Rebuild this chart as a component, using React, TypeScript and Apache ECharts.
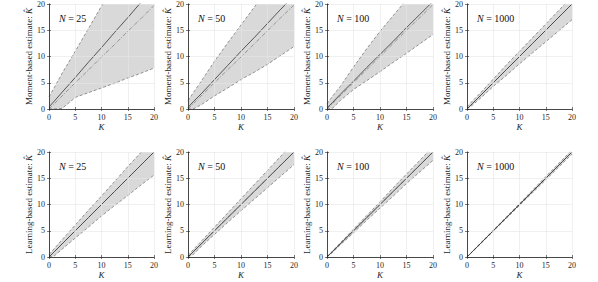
import React, { useEffect, useRef } from "react";
import * as echarts from "echarts";

// True number of components K (shared x grid for all panels)
const K = [0, 1, 2.5, 5, 7.5, 10, 12.5, 15, 17.5, 20];
const AXIS_TICKS = [0, 5, 10, 15, 20];
const N_VALUES = ["25", "50", "100", "1000"];
const ROW_LABELS = ["Moment-based estimate: ", "Learning-based estimate: "];

// Moment-based estimates (top row)
const m25Lower = [0, 0, 0.1, 2.2, 3.1, 4.0, 4.9, 5.9, 6.8, 7.8];
const m25Upper = [2.3, 4.1, 6.8, 11.0, 15.3, 19.6, 23.8, 28.0, 32.2, 36.4];
const m25Mean = [0.4, 1.5, 3.2, 6.0, 8.9, 11.7, 14.6, 17.4, 20.3, 23.1];
const m25Median = [0, 1.0, 2.5, 5.0, 7.4, 9.9, 12.3, 14.8, 17.2, 19.7];

const m50Lower = [0, 0, 0.8, 2.5, 4.0, 5.6, 7.0, 8.5, 10.2, 11.9];
const m50Upper = [1.6, 3.1, 5.3, 9.1, 12.6, 16.0, 19.4, 22.8, 26.2, 29.6];
const m50Mean = [0.3, 1.4, 2.9, 5.6, 8.3, 11.0, 13.6, 16.3, 19.0, 21.6];
const m50Median = [0, 1, 2.5, 5, 7.5, 9.9, 12.4, 14.9, 17.4, 19.8];

const m100Lower = [0, 0.1, 1.6, 3.7, 5.4, 7.1, 8.9, 10.6, 12.4, 14.2];
const m100Upper = [1.0, 2.4, 4.3, 8.0, 11.5, 14.8, 17.8, 20.8, 23.7, 26.6];
const m100Mean = [0.2, 1.2, 2.8, 5.3, 7.9, 10.4, 12.9, 15.5, 18.0, 20.5];
const m100Median = [0, 1, 2.5, 5, 7.5, 10, 12.5, 15, 17.4, 19.9];

const m1000Lower = [0, 0.7, 2.0, 4.3, 6.4, 8.6, 10.7, 12.8, 14.9, 17.0];
const m1000Upper = [0.4, 1.5, 3.0, 5.7, 8.4, 11.0, 13.6, 16.2, 18.8, 21.4];
const m1000Mean = [0, 1, 2.5, 5, 7.5, 10, 12.5, 15, 17.5, 20];
const m1000Median = [0, 1, 2.5, 5, 7.5, 10, 12.5, 15, 17.5, 20];

// Learning-based estimates (bottom row)
const l25Lower = [0, 0.2, 1.5, 3.6, 5.7, 7.8, 9.8, 11.7, 13.7, 15.6];
const l25Upper = [0.5, 1.6, 3.3, 6.1, 8.9, 11.6, 14.4, 17.2, 19.9, 22.7];
const l25Mean = [0, 1, 2.5, 5, 7.5, 10, 12.5, 15, 17.5, 20];
const l25Median = [0, 1, 2.5, 5, 7.5, 10, 12.5, 15, 17.5, 20];

const l50Lower = [0, 0.5, 2.0, 4.3, 6.6, 8.8, 11.0, 13.2, 15.4, 17.6];
const l50Upper = [0.3, 1.4, 3.0, 5.7, 8.4, 11.1, 13.8, 16.5, 19.2, 21.9];
const l50Mean = [0, 1, 2.5, 5, 7.5, 10, 12.5, 15, 17.5, 20];
const l50Median = [0, 1, 2.5, 5, 7.5, 10, 12.5, 15, 17.5, 20];

const l100Lower = [0, 0.8, 2.3, 4.6, 7.0, 9.3, 11.6, 14.0, 16.2, 18.4];
const l100Upper = [0.1, 1.1, 2.7, 5.3, 7.9, 10.5, 13.2, 15.8, 18.4, 21.0];
const l100Mean = [0, 1, 2.5, 5, 7.5, 10, 12.5, 15, 17.5, 20];
const l100Median = [0, 1, 2.5, 5, 7.5, 10, 12.5, 15, 17.5, 20];

const l1000Lower = [0, 0.95, 2.4, 4.9, 7.35, 9.8, 12.25, 14.7, 17.15, 19.6];
const l1000Upper = [0.05, 1.05, 2.6, 5.1, 7.65, 10.2, 12.75, 15.3, 17.85, 20.4];
const l1000Mean = [0, 1, 2.5, 5, 7.5, 10, 12.5, 15, 17.5, 20];
const l1000Median = [0, 1, 2.5, 5, 7.5, 10, 12.5, 15, 17.5, 20];

const panelData = [
  [m25Lower, m25Upper, m25Mean, m25Median],
  [m50Lower, m50Upper, m50Mean, m50Median],
  [m100Lower, m100Upper, m100Mean, m100Median],
  [m1000Lower, m1000Upper, m1000Mean, m1000Median],
  [l25Lower, l25Upper, l25Mean, l25Median],
  [l50Lower, l50Upper, l50Mean, l50Median],
  [l100Lower, l100Upper, l100Mean, l100Median],
  [l1000Lower, l1000Upper, l1000Mean, l1000Median],
];

const FONT = "Liberation Serif";
const GRID_LEFTS = [49, 188, 327, 467];
const GRID_WIDTHS = [105, 106, 106, 105];
const GRID_TOPS = [4, 152];
const GRID_H = 105;
const AX = "#262626";

export default function App() {
  const ref = useRef<HTMLDivElement>(null);
  useEffect(() => {
    document.body.style.margin = "0";
    if (!ref.current) return;
    const chart = echarts.init(ref.current, null, { renderer: "svg" });

    const grids: any[] = [];
    const xAxes: any[] = [];
    const yAxes: any[] = [];
    const series: any[] = [];
    const graphics: any[] = [];

    panelData.forEach((arrs, i) => {
      const row = Math.floor(i / 4);
      const col = i % 4;
      const [lower, upper, mean, median] = arrs;
      grids.push({
        left: GRID_LEFTS[col],
        top: GRID_TOPS[row],
        width: GRID_WIDTHS[col],
        height: GRID_H,
        show: false,
        containLabel: false,
      });
      const common = {
        type: "value",
        gridIndex: i,
        min: AXIS_TICKS[0],
        max: AXIS_TICKS[AXIS_TICKS.length - 1],
        interval: AXIS_TICKS[1] - AXIS_TICKS[0],
        z: 5,
        axisLine: { show: true, lineStyle: { color: AX, width: 0.6 } },
        axisTick: { show: true, inside: true, length: 2, lineStyle: { color: AX, width: 0.6 } },
      };
      xAxes.push({
        ...common,
        position: "bottom",
        axisLabel: { fontSize: 8, color: AX, fontFamily: FONT, margin: 4 },
        splitLine: { show: true, lineStyle: { color: "#e6e6e6", width: 0.6 } },
        name: "K",
        nameLocation: "middle",
        nameGap: 13,
        nameTextStyle: { fontSize: 9, fontStyle: "italic", fontFamily: FONT, color: AX },
      });
      xAxes.push({
        ...common,
        position: "top",
        axisLabel: { show: false },
        splitLine: { show: false },
      });
      yAxes.push({
        ...common,
        position: "left",
        axisLabel: { fontSize: 8, color: AX, fontFamily: FONT, margin: 4 },
        splitLine: { show: true, lineStyle: { color: "#e6e6e6", width: 0.6 } },
        name: "{a|" + ROW_LABELS[row] + "}{b|K\u0302}",
        nameLocation: "middle",
        nameGap: 12,
        nameTextStyle: {
          fontSize: 9,
          fontFamily: FONT,
          color: AX,
          rich: {
            a: { fontSize: 9, fontFamily: FONT, color: AX },
            b: { fontSize: 9, fontFamily: FONT, color: AX, fontStyle: "italic" },
          },
        },
      });
      yAxes.push({
        ...common,
        position: "right",
        axisLabel: { show: false },
        splitLine: { show: false },
      });

      const xi = i * 2;
      const base = {
        type: "line",
        xAxisIndex: xi,
        yAxisIndex: xi,
        symbol: "none",
        silent: true,
        clip: true,
      };
      // shaded band between lower and upper, drawn as one clipped polygon
      series.push({
        type: "custom",
        xAxisIndex: xi,
        yAxisIndex: xi,
        silent: true,
        z: 1,
        data: K.map((k, j) => [k, lower[j], upper[j]]),
        encode: { x: 0, y: [1, 2] },
        renderItem: (params: any, api: any) => {
          if (params.dataIndex !== 0) return null;
          const pts: number[][] = [];
          for (let j = 0; j < K.length; j++) pts.push(api.coord([K[j], upper[j]]));
          for (let j = K.length - 1; j >= 0; j--) pts.push(api.coord([K[j], lower[j]]));
          const cs = params.coordSys;
          return {
            type: "polygon",
            shape: { points: pts },
            style: { fill: "#d9d9d9", stroke: "none" },
            clipPath: { type: "rect", shape: { x: cs.x, y: cs.y, width: cs.width, height: cs.height } },
          };
        },
      });
      series.push({
        ...base,
        data: K.map((k, j) => [k, upper[j]]),
        lineStyle: { color: "#555", width: 0.6, type: [3, 2] },
        z: 3,
      });
      series.push({
        ...base,
        data: K.map((k, j) => [k, lower[j]]),
        lineStyle: { color: "#555", width: 0.6, type: [3, 2] },
        z: 3,
      });
      series.push({
        ...base,
        data: K.map((k, j) => [k, median[j]]),
        lineStyle: { color: "#666", width: 0.6, type: [4, 1.5, 1, 1.5] },
        z: 3,
      });
      series.push({
        ...base,
        data: K.map((k, j) => [k, mean[j]]),
        lineStyle: { color: "#333", width: 0.8, type: "solid" },
        z: 4,
      });

      graphics.push({
        type: "text",
        left: GRID_LEFTS[col] + 10,
        top: GRID_TOPS[row] + 9,
        z: 10,
        style: {
          text: "{i|N} = " + N_VALUES[col],
          fontSize: 10,
          fontFamily: FONT,
          fill: "#111",
          rich: {
            i: { fontSize: 10, fontFamily: FONT, fontStyle: "italic", fill: "#111" },
          },
        },
      });
    });

    chart.setOption({
      animation: false,
      backgroundColor: "#ffffff",
      grid: grids,
      xAxis: xAxes,
      yAxis: yAxes,
      series,
      graphic: graphics,
    });
    return () => chart.dispose();
  }, []);
  return <div ref={ref} style={{ width: 598, height: 282 }} />;
}
